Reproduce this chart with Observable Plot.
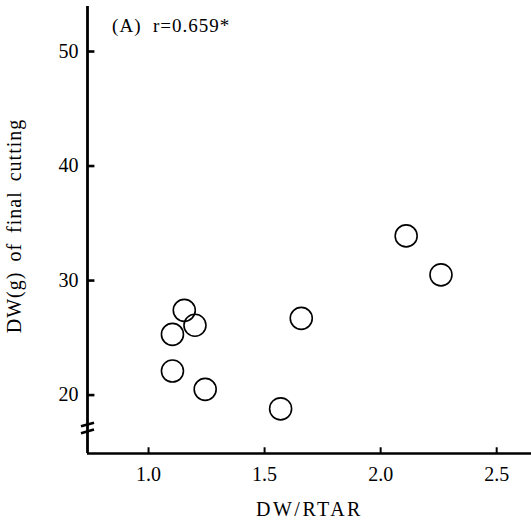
<!DOCTYPE html>
<html><head><meta charset="utf-8">
<script src="https://cdn.jsdelivr.net/npm/d3@7"></script>
<script src="https://cdn.jsdelivr.net/npm/@observablehq/plot@0.6"></script>
<style>body{margin:0;background:#fff}</style>
</head><body><div id="chart"></div>
<script>
const dwRtar = [1.154, 1.200, 1.103, 1.103, 1.244, 1.569, 1.658, 2.110, 2.260];
const dwFinal = [27.4, 26.1, 25.3, 22.1, 20.5, 18.8, 26.7, 33.9, 30.5];
const xTicks = [1.0, 1.5, 2.0, 2.5];
const yTicks = [20, 30, 40, 50];
const panelLabel = "(A)  r=0.659*";
const xLabel = "DW/RTAR";
const yLabel = "DW(g) of final cutting";

const xDomain = [0.737, 2.65];
const yDomain = [14.9, 53.93];
const breakY = [17.43, 16.83];

const data = dwRtar.map((x, i) => ({x, y: dwFinal[i]}));

const plot = Plot.plot({
  width: 531, height: 522,
  marginLeft: 87, marginRight: 0, marginTop: 6, marginBottom: 69,
  style: "font-family: 'Liberation Serif', 'DejaVu Serif', serif; font-size: 20px; color: #000; background: #fff;",
  x: {domain: xDomain},
  y: {domain: yDomain},
  marks: [
    Plot.axisX({ticks: xTicks, tickSize: 0, tickPadding: 13, tickFormat: d3.format(".1f"), label: null, fontSize: 20}),
    Plot.axisY({ticks: yTicks, tickSize: 0, tickPadding: 9, label: null, fontSize: 20}),
    Plot.ruleX(xTicks, {x: d => d, y1: yDomain[0], y2: yDomain[0] + 0.5, stroke: "#000", strokeWidth: 2}),
    Plot.ruleY(yTicks, {y: d => d, x1: xDomain[0], x2: xDomain[0] + 0.032, stroke: "#000", strokeWidth: 2.6}),
    Plot.ruleY([yDomain[0]], {stroke: "#000", strokeWidth: 2.6}),
    Plot.ruleX([xDomain[0]], {stroke: "#000", strokeWidth: 2.8}),
    Plot.link(breakY, {x1: xDomain[0] - 0.028, x2: xDomain[0] + 0.028, y1: d => d - 0.16, y2: d => d + 0.16, stroke: "#000", strokeWidth: 2.6}),
    Plot.dot(data, {x: "x", y: "y", r: 11, stroke: "#000", strokeWidth: 1.6, fill: "none"}),
    Plot.text([panelLabel], {x: 0.843, y: 52.25, text: d => d, textAnchor: "start", fontSize: 19}),
    Plot.text([xLabel], {frameAnchor: "bottom", dy: 56, lineAnchor: "middle", textAnchor: "middle", text: d => d, fontSize: 20}),
    Plot.text([yLabel], {frameAnchor: "left", dx: -73, dy: -4, rotate: -90, textAnchor: "middle", lineAnchor: "middle", text: d => d, fontSize: 20})
  ]
});
d3.select(plot).selectAll("text").each(function() {
  const t = this.textContent;
  if (t === yLabel) d3.select(this).style("letter-spacing", "1px").style("word-spacing", "4px");
  else if (t === xLabel) d3.select(this).style("letter-spacing", "2.5px");
  else if (t === panelLabel) d3.select(this).style("letter-spacing", "1px");
});
document.getElementById("chart").appendChild(plot);
</script>
</body></html>
